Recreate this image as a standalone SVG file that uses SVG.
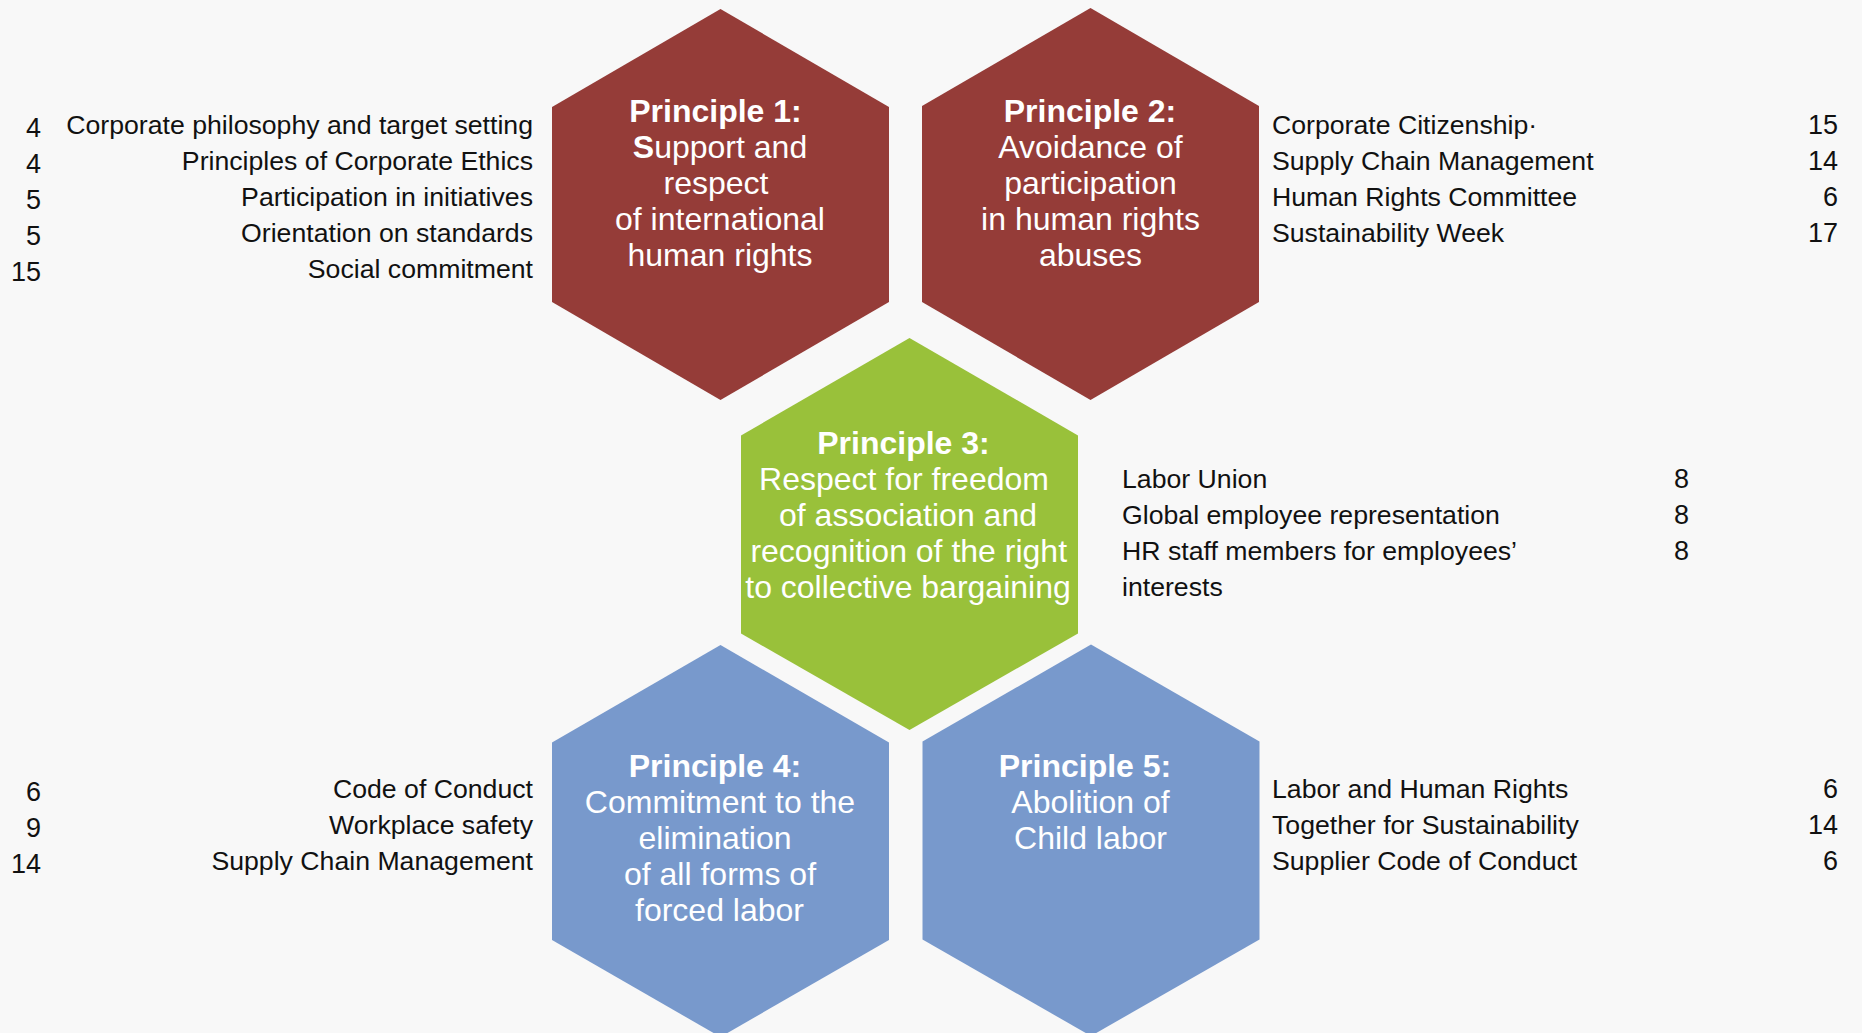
<svg xmlns="http://www.w3.org/2000/svg" width="1862" height="1033" viewBox="0 0 1862 1033">
<style>
.red{fill:#953C38}
.green{fill:#99C13A}
.blue{fill:#7899CC}
.ht{font-family:"Liberation Sans",Arial,sans-serif;font-size:32px;fill:#ffffff;text-anchor:middle}
.b{font-weight:bold}
.lt{font-family:"Liberation Sans",Arial,sans-serif;font-size:26.67px;fill:#111111}
.num{font-size:27px}
.end{text-anchor:end}
</style>
<rect x="0" y="0" width="1862" height="1033" fill="#F8F8F8"/>
<g id="connectors"/>
<g id="principle1">
<polygon class="red" points="720.5,9 889,107 889,302 720.5,400 552,302 552,107"/>
<text class="ht"><tspan class="b" x="715.5" y="121.5">Principle 1:</tspan><tspan x="720" y="157.5"><tspan class="b">S</tspan>upport and</tspan><tspan x="716" y="193.5">respect</tspan><tspan x="720" y="229.5">of international</tspan><tspan x="720" y="265.5">human rights</tspan></text>
</g>
<g id="principle2">
<polygon class="red" points="1090.5,8 1259,106 1259,302 1090.5,400 922,302 922,106"/>
<text class="ht"><tspan class="b" x="1090" y="121.5">Principle 2:</tspan><tspan x="1090.5" y="157.5">Avoidance of</tspan><tspan x="1090.5" y="193.5">participation</tspan><tspan x="1090.5" y="229.5">in human rights</tspan><tspan x="1090.5" y="265.5">abuses</tspan></text>
</g>
<g id="principle3">
<polygon class="green" points="909.5,338 1078,435.5 1078,633.5 909.5,730 741,633.5 741,435.5"/>
<text class="ht"><tspan class="b" x="903.5" y="454">Principle 3:</tspan><tspan x="904" y="489.5">Respect for freedom</tspan><tspan x="908" y="525.5">of association and</tspan><tspan x="908.7" y="561.5">recognition of the right</tspan><tspan x="908" y="597.5">to collective bargaining</tspan></text>
</g>
<g id="principle4">
<polygon class="blue" points="720.5,645 889,742.5 889,940 720.5,1037 552,940 552,742.5"/>
<text class="ht"><tspan class="b" x="715" y="777">Principle 4:</tspan><tspan x="720" y="813">Commitment to the</tspan><tspan x="715" y="849">elimination</tspan><tspan x="720" y="885">of all forms of</tspan><tspan x="719.5" y="921">forced labor</tspan></text>
</g>
<g id="principle5">
<polygon class="blue" points="1091,644.5 1259.5,741.5 1259.5,939.5 1091,1036 922.5,939.5 922.5,741.5"/>
<text class="ht"><tspan class="b" x="1085" y="777">Principle 5:</tspan><tspan x="1090.5" y="813">Abolition of</tspan><tspan x="1090.5" y="849">Child labor</tspan></text>
</g>
<g id="list1">
<text class="lt end" x="533" y="134">Corporate philosophy and target setting</text>
<text class="lt end" x="533" y="170">Principles of Corporate Ethics</text>
<text class="lt end" x="533" y="206">Participation in initiatives</text>
<text class="lt end" x="533" y="242">Orientation on standards</text>
<text class="lt end" x="533" y="278">Social commitment</text>
<text class="lt num end" x="41" y="137">4</text>
<text class="lt num end" x="41" y="173">4</text>
<text class="lt num end" x="41" y="209">5</text>
<text class="lt num end" x="41" y="245">5</text>
<text class="lt num end" x="41" y="281">15</text>
</g>
<g id="list2">
<text class="lt" x="1272" y="134">Corporate Citizenship·</text>
<text class="lt" x="1272" y="170">Supply Chain Management</text>
<text class="lt" x="1272" y="206">Human Rights Committee</text>
<text class="lt" x="1272" y="242">Sustainability Week</text>
<text class="lt num end" x="1838" y="134">15</text>
<text class="lt num end" x="1838" y="170">14</text>
<text class="lt num end" x="1838" y="206">6</text>
<text class="lt num end" x="1838" y="242">17</text>
</g>
<g id="list3">
<text class="lt" x="1122" y="488">Labor Union</text>
<text class="lt" x="1122" y="524">Global employee representation</text>
<text class="lt" x="1122" y="560">HR staff members for employees’</text>
<text class="lt" x="1122" y="596">interests</text>
<text class="lt num end" x="1689" y="488">8</text>
<text class="lt num end" x="1689" y="524">8</text>
<text class="lt num end" x="1689" y="560">8</text>
</g>
<g id="list4">
<text class="lt end" x="533" y="797.5">Code of Conduct</text>
<text class="lt end" x="533" y="833.5">Workplace safety</text>
<text class="lt end" x="533" y="869.5">Supply Chain Management</text>
<text class="lt num end" x="41" y="800.5">6</text>
<text class="lt num end" x="41" y="836.5">9</text>
<text class="lt num end" x="41" y="872.5">14</text>
</g>
<g id="list5">
<text class="lt" x="1272" y="797.5">Labor and Human Rights</text>
<text class="lt" x="1272" y="833.5">Together for Sustainability</text>
<text class="lt" x="1272" y="869.5">Supplier Code of Conduct</text>
<text class="lt num end" x="1838" y="797.5">6</text>
<text class="lt num end" x="1838" y="833.5">14</text>
<text class="lt num end" x="1838" y="869.5">6</text>
</g>
</svg>
